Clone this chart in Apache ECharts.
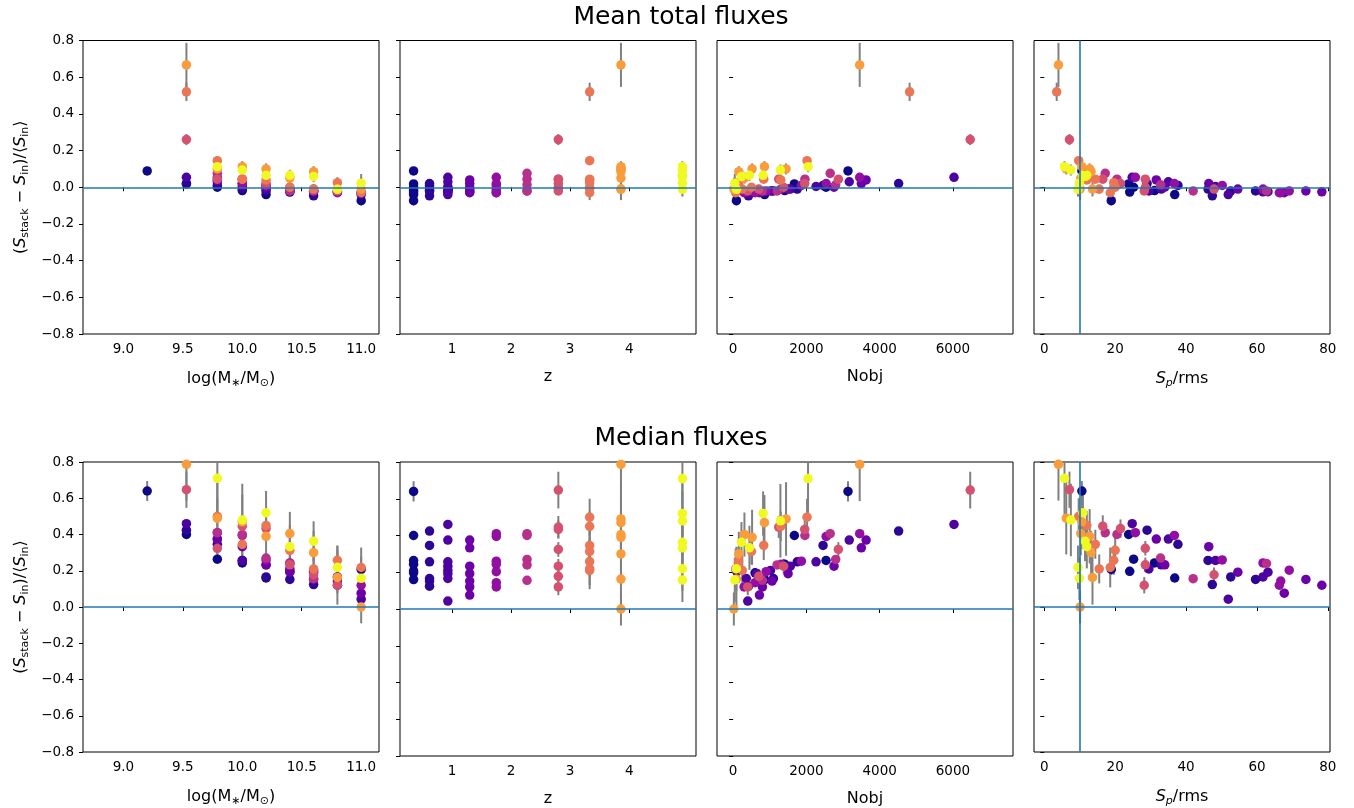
<!DOCTYPE html>
<html><head><meta charset="utf-8">
<script src="https://cdn.jsdelivr.net/npm/echarts@6/dist/echarts.min.js"></script>
<style>html,body{margin:0;padding:0;background:#fff}#c{width:1354px;height:808px}</style>
</head><body><div id="c"></div>
<script>
// ---- data: one entry per stacked bin ----
const logMass = [
 9.20, 9.53, 9.79, 10.00, 10.20, 10.40, 11.00,
 9.53, 9.79, 10.00, 10.20, 10.40, 10.60,
 9.53, 9.79, 10.00, 10.20, 10.40, 10.60, 10.80, 11.00,
 9.79, 10.00, 10.20, 10.40, 10.60, 10.80, 11.00,
 9.79, 10.00, 10.20, 10.40, 10.60, 10.80, 11.00,
 9.79, 10.00, 10.20, 10.40, 10.60,
 9.53, 9.79, 10.00, 10.20, 10.40, 10.60, 10.80,
 9.53, 9.79, 10.00, 10.20, 10.40, 10.60, 10.80, 11.00,
 9.53, 9.79, 10.00, 10.20, 10.40, 10.60, 10.80, 11.00,
 9.79, 10.00, 10.20, 10.40, 10.60, 10.80, 11.00];
const redshift = [
 0.35, 0.35, 0.35, 0.35, 0.35, 0.35, 0.35,
 0.62, 0.62, 0.62, 0.62, 0.62, 0.62,
 0.93, 0.93, 0.93, 0.93, 0.93, 0.93, 0.93, 0.93,
 1.30, 1.30, 1.30, 1.30, 1.30, 1.30, 1.30,
 1.75, 1.75, 1.75, 1.75, 1.75, 1.75, 1.75,
 2.27, 2.27, 2.27, 2.27, 2.27,
 2.80, 2.80, 2.80, 2.80, 2.80, 2.80, 2.80,
 3.33, 3.33, 3.33, 3.33, 3.33, 3.33, 3.33, 3.33,
 3.86, 3.86, 3.86, 3.86, 3.86, 3.86, 3.86, 3.86,
 4.90, 4.90, 4.90, 4.90, 4.90, 4.90, 4.90];
const nObj = [
 3136, 1672, 2536, 1409, 860, 600, 90,
 4518, 2455, 1750, 1100, 700, 420,
 6030, 3170, 2264, 1560, 1020, 640, 360, 400,
 3630, 3500, 2754, 1500, 1063, 800, 718,
 3455, 2540, 1864, 1310, 900, 600, 300,
 2650, 1960, 2800, 1200, 800,
 6472, 2873, 1245, 1954, 1380, 700, 400,
 4818, 2018, 836, 1300, 500, 250, 150, 70,
 3455, 1445, 855, 518, 309, 155, 90, 20,
 2045, 1291, 818, 445, 227, 90, 45];
const spRms = [
 10.6, 23.8, 25.2, 31.1, 36.8, 24.1, 18.9,
 29.0, 37.7, 46.2, 52.6, 59.6, 47.4,
 24.8, 35.0, 48.3, 33.0, 29.5, 63.1, 61.7, 51.9,
 31.6, 46.4, 34.0, 54.6, 73.8, 78.3, 67.7,
 25.7, 36.7, 50.2, 61.7, 69.1, 66.7, 66.3,
 17.2, 20.5, 32.8, 62.7, 42.0,
 7.1, 28.5, 16.5, 21.5, 28.5, 47.9, 28.2,
 3.5, 9.7, 14.4, 12.0, 20.0, 15.5, 19.6, 18.6,
 4.0, 6.2, 10.6, 12.8, 10.3, 13.2, 13.6, 10.1,
 5.7, 7.5, 10.9, 12.0, 11.5, 9.5, 9.9];
const meanRatio = [
 0.089, 0.018, 0.000, -0.018, -0.040, -0.026, -0.073,
 0.020, 0.010, -0.010, -0.020, -0.020, -0.047,
 0.054, 0.030, 0.004, -0.010, -0.020, -0.024, -0.025, -0.040,
 0.040, 0.020, 0.000, -0.010, -0.020, -0.025, -0.030,
 0.054, 0.020, 0.010, -0.010, -0.020, -0.030, -0.030,
 0.076, 0.044, 0.013, -0.020, -0.020,
 0.260, 0.044, 0.044, 0.020, 0.000, -0.010, -0.020,
 0.520, 0.145, 0.044, 0.040, 0.000, -0.010, 0.025, -0.030,
 0.667, 0.100, 0.112, 0.100, 0.050, 0.085, -0.010, -0.010,
 0.112, 0.094, 0.065, 0.065, 0.058, -0.011, 0.022];
const meanErr = [
 0.010, 0.008, 0.008, 0.008, 0.010, 0.010, 0.025,
 0.008, 0.008, 0.008, 0.008, 0.008, 0.010,
 0.010, 0.008, 0.008, 0.008, 0.008, 0.008, 0.010, 0.012,
 0.008, 0.008, 0.008, 0.008, 0.008, 0.010, 0.012,
 0.010, 0.008, 0.008, 0.008, 0.008, 0.010, 0.012,
 0.012, 0.010, 0.010, 0.010, 0.010,
 0.030, 0.012, 0.015, 0.015, 0.012, 0.012, 0.015,
 0.050, 0.020, 0.020, 0.020, 0.020, 0.025, 0.030, 0.040,
 0.120, 0.030, 0.030, 0.030, 0.030, 0.030, 0.040, 0.060,
 0.030, 0.030, 0.030, 0.030, 0.030, 0.040, 0.050];
const medianRatio = [
 0.640, 0.400, 0.264, 0.243, 0.160, 0.197, 0.207,
 0.424, 0.346, 0.257, 0.166, 0.152, 0.124,
 0.460, 0.375, 0.257, 0.233, 0.210, 0.192, 0.166, 0.043,
 0.375, 0.333, 0.233, 0.192, 0.152, 0.120, 0.076,
 0.410, 0.395, 0.260, 0.243, 0.203, 0.143, 0.120,
 0.410, 0.400, 0.270, 0.240, 0.156,
 0.647, 0.324, 0.446, 0.433, 0.233, 0.178, 0.120,
 0.950, 0.500, 0.346, 0.450, 0.313, 0.210, 0.258, 0.218,
 0.787, 0.490, 0.470, 0.390, 0.405, 0.300, 0.163, 0.000,
 0.710, 0.480, 0.520, 0.333, 0.363, 0.219, 0.158];
const medianErr = [
 0.055, 0.025, 0.020, 0.020, 0.020, 0.025, 0.030,
 0.020, 0.018, 0.015, 0.015, 0.015, 0.018,
 0.020, 0.018, 0.015, 0.015, 0.015, 0.015, 0.018, 0.020,
 0.018, 0.015, 0.015, 0.015, 0.015, 0.015, 0.018,
 0.020, 0.018, 0.015, 0.015, 0.015, 0.015, 0.018,
 0.025, 0.025, 0.020, 0.018, 0.018,
 0.100, 0.040, 0.060, 0.050, 0.040, 0.040, 0.045,
 0.120, 0.100, 0.080, 0.080, 0.070, 0.080, 0.080, 0.110,
 0.200, 0.200, 0.150, 0.150, 0.120, 0.120, 0.150, 0.090,
 0.200, 0.200, 0.120, 0.120, 0.110, 0.120, 0.120];

const yTicks = [-0.8, -0.6, -0.4, -0.2, 0.0, 0.2, 0.4, 0.6, 0.8];
const massTicks = [9.0, 9.5, 10.0, 10.5, 11.0];
const zTicks = [1, 2, 3, 4];
const nObjTicks = [0, 2000, 4000, 6000];
const spTicks = [0, 20, 40, 60, 80];

// ---- styling / layout ----
const FONT = 'DejaVu Sans';
const plasmaStops = ['#0d0887','#41049d','#6a00a8','#8f0da4','#b12a90','#cc4778','#e16462','#f2844b','#fca636','#fcce25','#f0f921'];
function hex2rgb(h){return [parseInt(h.substr(1,2),16),parseInt(h.substr(3,2),16),parseInt(h.substr(5,2),16)];}
function plasma(t){
  t = Math.max(0, Math.min(1, t));
  const s = t * 10, i = Math.min(9, Math.floor(s)), f = s - i;
  const a = hex2rgb(plasmaStops[i]), b = hex2rgb(plasmaStops[i+1]);
  return 'rgb(' + a.map((v,k)=>Math.round(v + (b[k]-v)*f)).join(',') + ')';
}
const zLo = Math.min(...redshift), zHi = Math.max(...redshift);
const colorOf = z => plasma((z - zLo) / (zHi - zLo));
const minus = s => s.replace('-', '\u2212');

const rich = {
  it: {fontStyle: 'italic', fontSize: 16, fontFamily: FONT, color: '#000'},
  sub: {fontSize: 11, fontFamily: FONT, padding: [9, 0, 0, 0], color: '#000'},
  subit: {fontSize: 11, fontStyle: 'italic', fontFamily: FONT, padding: [9, 0, 0, 0], color: '#000'}
};
const cols = [
  {vals: logMass, min: 8.66, max: 11.15, ticks: massTicks, fmt: v => v.toFixed(1), name: 'log(M{sub|\u2217}/M{sub|\u2299})'},
  {vals: redshift, min: 0.12, max: 5.13, ticks: zTicks, fmt: v => String(v), name: 'z'},
  {vals: nObj, min: -440, max: 7640, ticks: nObjTicks, fmt: v => String(v), name: 'Nobj'},
  {vals: spRms, min: -2.9, max: 80.6, ticks: spTicks, fmt: v => String(v), name: '{it|S}{subit|p}/rms', vline: 10}
];
const rows = [
  {title: 'Mean total fluxes', vals: meanRatio, errs: meanErr, top: 40.5, height: 293.5, titleY: 17},
  {title: 'Median fluxes', vals: medianRatio, errs: medianErr, top: 462, height: 295, titleY: 438}
];
const lefts = [83, 400, 717, 1034], W = 296;
const yName = '({it|S}{sub|stack} \u2212 {it|S}{sub|in})/\u27e8{it|S}{sub|in}\u27e9';

const grid = [], xAxis = [], yAxis = [], series = [], graphic = [];
rows.forEach((row, r) => {
  graphic.push({type: 'text', x: 681, y: row.titleY, style: {text: row.title, font: '25px "' + FONT + '"', fill: '#000', align: 'center', verticalAlign: 'middle'}});
  cols.forEach((col, c) => {
    const g = grid.length;
    grid.push({left: lefts[c], top: row.top, width: W, height: row.height, show: true, borderColor: '#000', borderWidth: 1, backgroundColor: 'transparent'});
    xAxis.push({
      type: 'value', gridIndex: g, min: col.min, max: col.max,
      axisLine: {show: false}, splitLine: {show: false},
      axisTick: {show: true, inside: false, length: 4, customValues: col.ticks, lineStyle: {color: '#000', width: 1}},
      axisLabel: {show: true, customValues: col.ticks, formatter: col.fmt, color: '#000', fontSize: 13.5, fontFamily: FONT, margin: 8},
      name: col.name, nameLocation: 'middle', nameGap: 35,
      nameTextStyle: {fontSize: 16, fontFamily: FONT, color: '#000', rich: rich}
    });
    yAxis.push({
      type: 'value', gridIndex: g, min: -0.8, max: 0.8,
      axisLine: {show: false}, splitLine: {show: false},
      axisTick: {show: true, inside: false, length: 4, customValues: yTicks, lineStyle: {color: '#000', width: 1}},
      axisLabel: {show: c === 0, customValues: yTicks, formatter: v => minus(v.toFixed(1)), color: '#000', fontSize: 13.5, fontFamily: FONT, margin: 9},
      name: c === 0 ? yName : '', nameLocation: 'middle', nameGap: 52, nameRotate: 90,
      nameTextStyle: {fontSize: 16, fontFamily: FONT, color: '#000', rich: rich}
    });
    const idx = logMass.map((_, i) => i);
    series.push({
      type: 'custom', xAxisIndex: g, yAxisIndex: g, z: 1, silent: true,
      data: idx.map(i => [col.vals[i], row.vals[i], row.errs[i]]),
      renderItem: (params, api) => {
        const x = api.value(0), y = api.value(1), e = api.value(2);
        const p1 = api.coord([x, y - e]), p2 = api.coord([x, y + e]);
        const cs = params.coordSys;
        const top = cs.y, bot = cs.y + cs.height;
        const ya = Math.max(top, Math.min(bot, p1[1])), yb = Math.max(top, Math.min(bot, p2[1]));
        if (p1[0] < cs.x || p1[0] > cs.x + cs.width) return null;
        return {type: 'line', shape: {x1: p1[0], y1: ya, x2: p2[0], y2: yb}, style: {stroke: '#808080', lineWidth: 2}};
      }
    });
    const ml = [{yAxis: 0}];
    if (col.vline !== undefined) ml.push({xAxis: col.vline});
    series.push({
      type: 'scatter', xAxisIndex: g, yAxisIndex: g, z: 2, clip: true, symbolSize: 9.5,
      data: idx.map(i => [col.vals[i], row.vals[i], redshift[i]]),
      itemStyle: {opacity: 1, color: p => colorOf(p.data[2])},
      markLine: {silent: true, symbol: ['none', 'none'], label: {show: false}, animation: false,
        lineStyle: {color: '#1f77b4', width: 1.6, type: 'solid'}, data: ml}
    });
  });
});

const chart = echarts.init(document.getElementById('c'), null, {renderer: 'canvas'});
chart.setOption({animation: false, backgroundColor: '#fff', grid, xAxis, yAxis, series, graphic});
</script>
</body></html>
